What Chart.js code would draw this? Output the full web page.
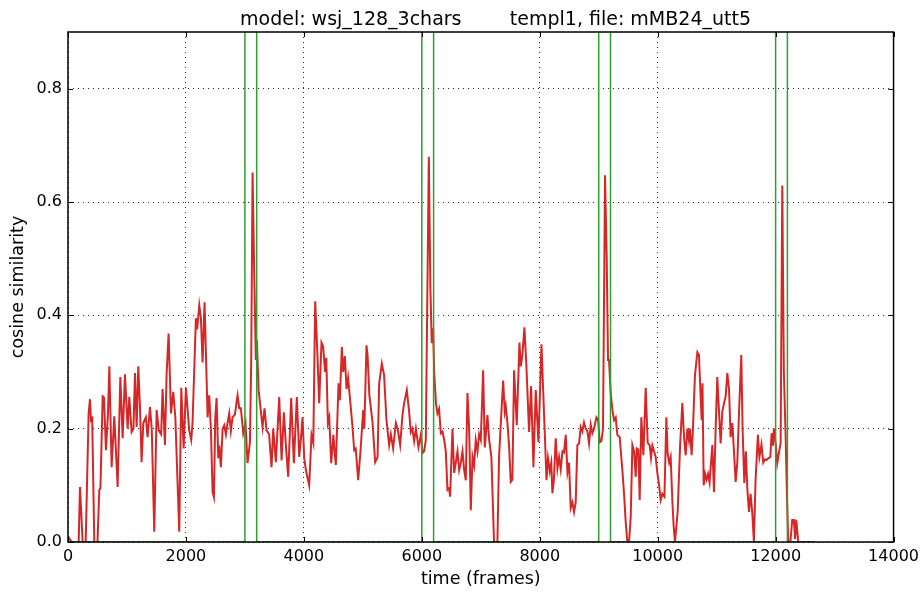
<!DOCTYPE html>
<html>
<head>
<meta charset="utf-8">
<script src="https://cdn.jsdelivr.net/npm/chart.js@4/dist/chart.umd.min.js"></script>
<style>
html,body{margin:0;padding:0;background:#fff;}
#wrap{width:924px;height:592px;}
</style>
</head>
<body>
<div id="wrap"><canvas id="c" width="924" height="592"></canvas></div>
<script>
const titleText = "model: wsj_128_3chars        templ1, file: mMB24_utt5";
const xTitle = "time (frames)";
const yTitle = "cosine similarity";
const xTicks = [0, 2000, 4000, 6000, 8000, 10000, 12000, 14000];
const yTicks = [0.0, 0.2, 0.4, 0.6, 0.8];

// template marker intervals (green)
const markerStarts = [3000, 6000, 9000, 12000];
const markerEnds = [3200, 6200, 9200, 12200];
const markerLevel = 1;
const signalEnd = 12660;

// cosine similarity trace (red)
const frames = [
0,60,181,203,249,300,350,373,390,410,446,500,531,550,588,610,644,678,701,740,785,842,887,927,966,1011,1039,1079,1110,1136,1164,1192,1220,1248,1277,1320,1350,1390,1420,1463,1503,1540,1580,1604,1644,1673,1706,1746,1785,1820,1887,1921,1961,2000,
2056,2090,2112,2169,2190,2226,2254,2282,2316,2350,2367,2395,2423,2452,2475,2497,2520,2548,2565,2593,2622,2650,2678,2706,2734,2762,2790,2830,2876,2904,2932,2972,3010,3045,3085,3107,3130,3158,3186,3203,3232,3266,3299,3333,3367,3410,3452,3480,3525,3582,3622,3661,3695,3734,3785,3830,3881,3921,3950,3977,4006,4034,4090,
4130,4160,4192,4230,4260,4299,4327,4360,4380,4407,4430,4463,4500,4520,4542,4588,4610,4644,4667,4695,4723,4750,4785,4825,4853,4880,4921,4960,5006,5025,5062,5080,5110,5147,5165,5209,5250,5277,5322,5360,5401,5446,5475,5514,5560,5590,5633,5672,5700,5746,5785,5813,5840,5870,5900,5943,5985,6011,6040,6068,6090,6119,6145,6169,6192,6210,6240,6265,6293,6322,6350,6380,6407,6435,6463,6480,6520,6548,6576,6605,6633,6661,6690,6718,6746,6774,6803,6831,6860,6887,6915,6944,6972,7000,7040,7068,7113,7142,7180,7225,7282,7310,7340,7379,7407,7424,7452,7480,7508,7536,7565,7610,7656,7678,7706,7740,7774,7819,7853,7893,7932,7978,8029,8057,8090,8114,8140,8170,8195,8215,8240,8271,8300,8328,8356,8385,8412,8441,8470,8497,8525,8554,8582,8610,8638,8667,8695,8723,8751,8780,8808,8836,8865,8892,8920,8961,8990,9017,9045,9073,9107,9135,9158,9175,9203,9232,9260,9288,9316,9356,9401,9430,9458,9486,9515,9543,9571,9600,9627,9645,9672,9695,9723,9757,9797,9830,9864,9887,9910,9938,9966,9994,10022,10051,10080,10115,10147,10170,10195,10220,10250,10270,10293,10320,10340,10380,10418,10447,10475,10504,10530,10547,10576,10600,10632,10673,10700,10717,10746,10760,10780,10805,10830,10855,10880,10927,10955,10983,11011,11040,11068,11096,11125,11153,11181,11210,11237,11266,11294,11322,11350,11380,11418,11440,11469,11495,11520,11548,11575,11605,11632,11660,11700,11725,11760,11790,11820,11850,11880,11910,11932,11955,11971,12000,12028,12060,12085,12113,12140,12170,12195,12215,12250,12282,12310,12330,12350,12384,12660
];
const similarity = [
0.01,0,0,0.097,0,0,0.227,0.252,0.215,0.218,0,0,0.092,0.095,0.257,0.255,0.162,0.227,0.31,0.132,0.222,0.097,0.291,0.183,0.296,0.2,0.256,0.194,0.2,0.298,0.203,0.31,0.24,0.141,0.21,0.22,0.185,0.238,0.2,0.018,0.233,0.197,0.19,0.27,0.171,0.298,0.368,0.227,0.265,0.22,0.018,0.272,0.165,0.272,
0.197,0.18,0.21,0.395,0.375,0.418,0.395,0.317,0.423,0.29,0.22,0.259,0.2,0.088,0.079,0.22,0.254,0.148,0.17,0.132,0.2,0.206,0.19,0.21,0.227,0.196,0.22,0.225,0.259,0.236,0.236,0.192,0.21,0.139,0.176,0.32,0.652,0.475,0.321,0.356,0.268,0.236,0.203,0.236,0.197,0.19,0.132,0.2,0.141,0.256,0.144,0.229,0.17,0.115,0.254,0.139,0.256,0.15,0.183,0.22,0.148,0.127,0.1,
0.189,0.175,0.425,0.33,0.245,0.352,0.345,0.3,0.325,0.21,0.22,0.139,0.189,0.16,0.136,0.28,0.25,0.344,0.3,0.328,0.27,0.29,0.25,0.203,0.162,0.165,0.109,0.16,0.233,0.2,0.347,0.33,0.26,0.227,0.21,0.141,0.15,0.28,0.315,0.295,0.215,0.171,0.19,0.165,0.21,0.2,0.171,0.224,0.245,0.268,0.23,0.194,0.2,0.178,0.2,0.167,0.19,0.157,0.16,0.18,0.4,0.68,0.45,0.351,0.377,0.3,0.245,0.227,0.235,0.192,0.195,0.18,0.16,0.092,0.095,0.08,0.2,0.122,0.14,0.16,0.127,0.14,0.16,0.127,0.109,0.263,0.2,0.056,0.15,0.135,0.18,0.16,0.19,0.18,0.303,0.167,0.224,0.18,0.15,0,0,0.15,0.21,0.285,0.23,0.24,0.21,0.17,0.106,0.11,0.303,0.206,0.352,0.31,0.33,0.379,0.31,0.194,0.275,0.132,0.268,0.176,0.349,0.27,0.18,0.109,0.148,0.125,0.14,0.086,0.11,0.183,0.13,0.15,0.128,0.16,0.158,0.189,0.123,0.14,0.06,0.07,0.053,0.07,0.171,0.174,0.203,0.195,0.211,0.2,0.196,0.174,0.207,0.192,0.2,0.22,0.215,0.176,0.178,0.2,0.647,0.505,0.321,0.321,0.263,0.233,0.215,0.22,0.189,0.185,0.127,0.085,0.035,0,0,0.045,0.171,0.16,0.115,0.165,0.163,0.074,0.22,0.153,0.272,0.175,0.171,0.148,0.17,0.16,0.15,0.122,0.102,0.074,0.085,0.08,0.22,0.155,0.14,0.15,0.07,0.03,0,0.03,0.056,0.17,0.245,0.185,0.153,0.2,0.18,0.2,0.153,0.205,0.294,0.335,0.33,0.285,0.215,0.28,0.1,0.12,0.11,0.12,0.105,0.171,0.088,0.2,0.291,0.23,0.174,0.23,0.245,0.257,0.298,0.27,0.185,0.21,0.16,0.106,0.14,0.23,0.33,0.2,0.104,0.16,0.095,0.053,0.085,0.05,0,0.11,0.189,0.15,0.172,0.14,0.146,0.145,0.148,0.15,0.192,0.17,0.2,0.175,0.139,0.16,0.174,0.629,0.3,0.185,0.07,0,0,0.039,0.039,0.005,0.039,0,0
];

const redData = frames.map((f, i) => ({x: f, y: similarity[i]}));
const greenData = [{x: 0, y: 0}];
markerStarts.forEach((s, i) => {
  greenData.push({x: s, y: 0}, {x: s, y: markerLevel}, {x: markerEnds[i], y: markerLevel}, {x: markerEnds[i], y: 0});
});
greenData.push({x: signalEnd, y: 0});

const FONT = "'DejaVu Sans', sans-serif";

const framePlugin = {
  id: 'framePlugin',
  afterDatasetsDraw(chart) {
    const {ctx, chartArea: a, scales} = chart;
    ctx.save();
    ctx.strokeStyle = '#000';
    ctx.lineWidth = 1;
    ctx.beginPath();
    xTicks.forEach(v => {
      const px = Math.round(scales.x.getPixelForValue(v)) + 0.5;
      ctx.moveTo(px, a.bottom); ctx.lineTo(px, a.bottom - 5);
      ctx.moveTo(px, a.top); ctx.lineTo(px, a.top + 5);
    });
    yTicks.forEach(v => {
      const py = Math.round(scales.y.getPixelForValue(v)) + 0.5;
      ctx.moveTo(a.left, py); ctx.lineTo(a.left + 5, py);
      ctx.moveTo(a.right, py); ctx.lineTo(a.right - 5, py);
    });
    ctx.stroke();
    ctx.lineWidth = 1.5;
    ctx.strokeRect(a.left, a.top, a.right - a.left, a.bottom - a.top);
    ctx.restore();
  },
  afterDraw(chart) {
    const {ctx} = chart;
    ctx.save();
    ctx.fillStyle = '#000';
    ctx.font = "19px " + FONT;
    ctx.textAlign = 'left';
    ctx.textBaseline = 'alphabetic';
    ctx.fillText(titleText, 240, 25);
    ctx.restore();
  }
};

new Chart(document.getElementById('c'), {
  type: 'line',
  data: {
    datasets: [
      {data: greenData, borderColor: '#2ca02c', borderWidth: 1.5, pointRadius: 0, tension: 0, order: 0},
      {data: redData, borderColor: '#d62728', borderWidth: 2, pointRadius: 0, tension: 0, order: 1}
    ]
  },
  options: {
    responsive: false,
    animation: false,
    events: [],
    layout: {padding: {top: 32, right: 30, left: 0, bottom: 0}},
    plugins: {legend: {display: false}, tooltip: {enabled: false}},
    scales: {
      x: {
        type: 'linear', min: 0, max: 14000,
        afterBuildTicks: s => { s.ticks = xTicks.map(v => ({value: v})); },
        afterFit: s => { s.height = 50; },
        grid: {color: 'rgba(0,0,0,0.85)', lineWidth: 1, drawTicks: false},
        border: {display: false, dash: [1, 4]},
        ticks: {color: '#000', font: {family: FONT, size: 16}, padding: 5, maxRotation: 0, callback: v => String(v)},
        title: {display: true, text: xTitle, color: '#000', font: {family: FONT, size: 17.5}, padding: {top: 0, bottom: 2}}
      },
      y: {
        type: 'linear', min: 0, max: 0.9,
        afterBuildTicks: s => { s.ticks = yTicks.map(v => ({value: v})); },
        afterFit: s => { s.width = 68; },
        grid: {color: 'rgba(0,0,0,0.85)', lineWidth: 1, drawTicks: false},
        border: {display: false, dash: [1, 4]},
        ticks: {color: '#000', font: {family: FONT, size: 16}, padding: 6, callback: v => Number(v).toFixed(1)},
        title: {display: true, text: yTitle, color: '#000', font: {family: FONT, size: 17.5}, padding: {top: 8, bottom: 0}}
      }
    }
  },
  plugins: [framePlugin]
});
</script>
</body>
</html>
